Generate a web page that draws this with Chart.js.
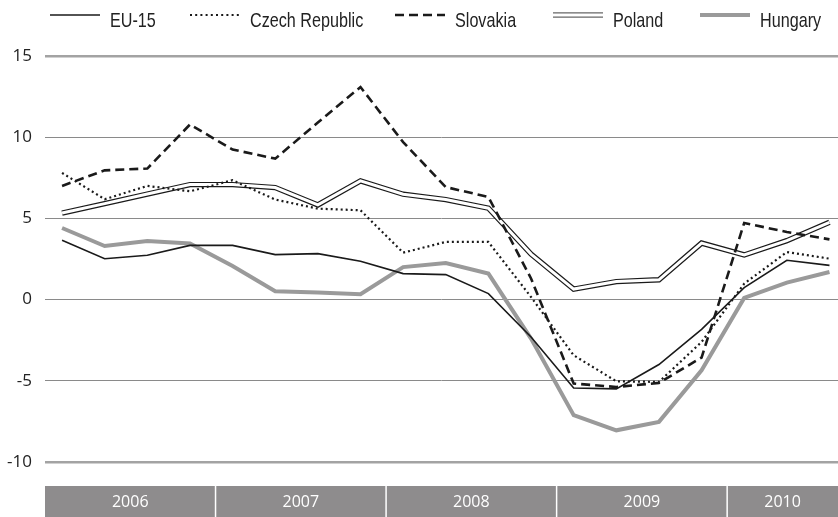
<!DOCTYPE html>
<html>
<head>
<meta charset="utf-8">
<script src="https://cdn.jsdelivr.net/npm/chart.js@4.4.0/dist/chart.umd.min.js"></script>
<style>
html,body{margin:0;padding:0;background:#fff}
#wrap{width:838px;height:517px;position:relative}
</style>
</head>
<body>
<div id="wrap"><canvas id="chart"></canvas></div>
<script>
// quarterly growth, 2006Q1 - 2010Q3
var quarters=['2006Q1','2006Q2','2006Q3','2006Q4','2007Q1','2007Q2','2007Q3','2007Q4',
	'2008Q1','2008Q2','2008Q3','2008Q4','2009Q1','2009Q2','2009Q3','2009Q4','2010Q1','2010Q2','2010Q3'];
var years=['2006','2007','2008','2009','2010'];
var quartersPerYear=[4,4,4,4,3];
var yTicks=[15,10,5,0,-5,-10];

var eu15=[3.65,2.52,2.73,3.34,3.34,2.77,2.83,2.36,1.60,1.54,0.37,-2.30,-5.44,-5.50,-4.0,-1.83,0.74,2.42,2.11];
var czech=[7.80,6.18,7.0,6.67,7.35,6.16,5.60,5.50,2.89,3.55,3.55,0.16,-3.43,-5.03,-5.07,-2.61,0.98,2.93,2.52];
var slovakia=[7.0,7.96,8.07,10.78,9.24,8.68,10.9,13.09,9.7,6.93,6.32,1.3,-5.17,-5.38,-5.13,-3.57,4.72,4.16,3.71];
var poland=[5.33,5.91,6.5,7.08,7.08,6.9,5.83,7.31,6.49,6.16,5.63,2.8,0.65,1.11,1.22,3.48,2.75,3.63,4.76];
var hungary=[4.41,3.30,3.61,3.45,2.07,0.51,0.43,0.33,2.0,2.25,1.6,-2.4,-7.12,-8.05,-7.53,-4.35,0.1,1.05,1.70];

function pts(arr){
	return arr.map(function(v,i){return {x:i,y:v,q:quarters[i]};});
}

var legendItems=[
	{label:'EU-15',x:50},
	{label:'Czech Republic',x:190},
	{label:'Slovakia',x:395},
	{label:'Poland',x:553},
	{label:'Hungary',x:700}
];

var legendPlugin={
	id:'myLegend',
	afterDraw:function(chart){
		var c=chart.ctx;
		var y=15;
		c.save();
		legendItems.forEach(function(it){
			var x0=it.x,x1=it.x+50;
			c.setLineDash([]);
			c.lineCap='butt';
			if(it.label=='EU-15'){
				c.strokeStyle='#1a1a1a';c.lineWidth=1.5;
				c.beginPath();c.moveTo(x0,y);c.lineTo(x1,y);c.stroke();
			}else if(it.label=='Czech Republic'){
				c.strokeStyle='#1a1a1a';c.lineWidth=2;c.setLineDash([2,3.2]);
				c.beginPath();c.moveTo(x0,y);c.lineTo(x1,y);c.stroke();
			}else if(it.label=='Slovakia'){
				c.strokeStyle='#1a1a1a';c.lineWidth=2.5;c.setLineDash([9,5]);
				c.beginPath();c.moveTo(x0,y);c.lineTo(x1,y);c.stroke();
			}else if(it.label=='Poland'){
				c.strokeStyle='#666';c.lineWidth=1.2;
				c.beginPath();c.moveTo(x0,y-2.2);c.lineTo(x1,y-2.2);c.stroke();
				c.beginPath();c.moveTo(x0,y+2.2);c.lineTo(x1,y+2.2);c.stroke();
			}else{
				c.strokeStyle='#9a9a9a';c.lineWidth=4;
				c.beginPath();c.moveTo(x0,y);c.lineTo(x1,y);c.stroke();
			}
			c.setLineDash([]);
			// condensed look: narrow the regular face horizontally
			c.save();
			c.translate(x1+10,27);
			c.scale(0.77,1);
			c.fillStyle='#222';
			c.font='21px "Liberation Sans",Arial,sans-serif';
			c.textBaseline='alphabetic';
			c.textAlign='left';
			c.fillText(it.label,0,0);
			c.restore();
		});
		c.restore();
	}
};

var yearBandPlugin={
	id:'yearBand',
	afterDraw:function(chart){
		var c=chart.ctx;
		var xs=chart.scales.x;
		var top=chart.chartArea.bottom+24;
		var bottom=chart.height;
		var right=chart.width;
		c.save();
		var start=0;
		for(var i=0;i<years.length;i++){
			var l=xs.getPixelForValue(start-0.4);
			var r=Math.min(xs.getPixelForValue(start+quartersPerYear[i]-0.4),right);
			c.fillStyle='#8e8c8d';
			c.fillRect(l,top,r-l,bottom-top);
			c.fillStyle='#fff';
			c.font='16px "Open Sans",sans-serif';
			c.textAlign='center';
			c.textBaseline='middle';
			c.fillText(years[i],(l+r)/2,(top+bottom)/2+1);
			if(i>0){
				c.strokeStyle='#fff';c.lineWidth=1.5;
				c.beginPath();c.moveTo(l,top);c.lineTo(l,bottom);c.stroke();
			}
			start+=quartersPerYear[i];
		}
		c.restore();
	}
};

var ctx=document.getElementById('chart');
var chart=new Chart(ctx,{
	type:'line',
	data:{
		datasets:[
			{label:'EU-15',data:pts(eu15),borderColor:'#1a1a1a',borderWidth:1.6},
			{label:'Czech Republic',data:pts(czech),borderColor:'#1a1a1a',borderWidth:2.2,borderDash:[2,3]},
			{label:'Slovakia',data:pts(slovakia),borderColor:'#1a1a1a',borderWidth:2.6,borderDash:[9,5]},
			{label:'Poland gap',data:pts(poland),borderColor:'#fff',borderWidth:3},
			{label:'Poland',data:pts(poland),borderColor:'#1a1a1a',borderWidth:5.4},
			{label:'Hungary',data:pts(hungary),borderColor:'#9a9a9a',borderWidth:4}
		]
	},
	options:{
		responsive:true,
		maintainAspectRatio:false,
		animation:false,
		devicePixelRatio:1,
		elements:{point:{radius:0},line:{tension:0,borderJoinStyle:'miter'}},
		layout:{padding:{top:56,bottom:55,left:0,right:0}},
		plugins:{legend:{display:false},tooltip:{enabled:false}},
		scales:{
			x:{type:'linear',min:-0.4,max:18.2,display:false},
			y:{
				min:-10,max:15,
				afterBuildTicks:function(s){s.ticks=yTicks.map(function(v){return {value:v};});},
				afterFit:function(s){s.width=45;},
				border:{display:false},
				grid:{
					drawTicks:false,
					color:function(c){return (c.tick&&(c.tick.value==15||c.tick.value==-10))?'#a3a3a3':'#8a8a8a';},
					lineWidth:function(c){return (c.tick&&(c.tick.value==15||c.tick.value==-10))?2.5:1;}
				},
				ticks:{
					padding:13,
					color:'#222',
					font:{family:'"Open Sans"',size:17}
				}
			}
		}
	},
	plugins:[legendPlugin,yearBandPlugin]
});
</script>
</body>
</html>
